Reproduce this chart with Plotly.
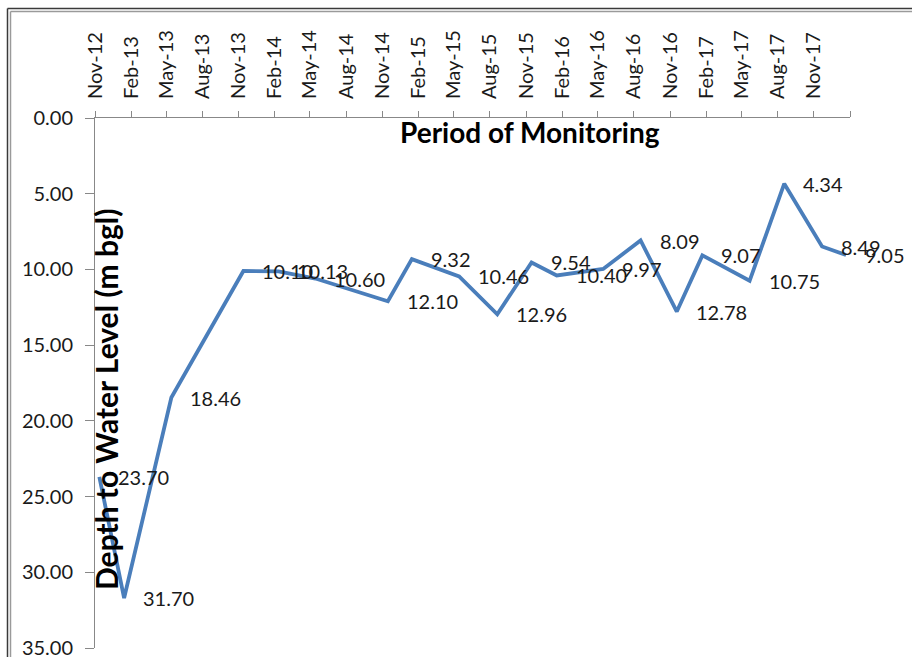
import pandas as pd
import plotly.graph_objects as go

# Monitoring dates and depth to water level in m bgl
dates = ['2012-11-12', '2013-01-14', '2013-05-14', '2013-11-13', '2014-02-10',
         '2014-05-15', '2014-11-15', '2015-01-15', '2015-05-15', '2015-08-20',
         '2015-11-15', '2016-01-18', '2016-05-15', '2016-08-18', '2016-11-18',
         '2017-01-22', '2017-05-22', '2017-08-18', '2017-11-22', '2018-01-22']
depth = [23.70, 31.70, 18.46, 10.10, 10.13,
         10.60, 12.10, 9.32, 10.46, 12.96,
         9.54, 10.40, 9.97, 8.09, 12.78,
         9.07, 10.75, 4.34, 8.49, 9.05]

# Tick labels along the top axis (every 3 months, last tick unlabeled)
tick_labels = ['Nov-12', 'Feb-13', 'May-13', 'Aug-13', 'Nov-13', 'Feb-14', 'May-14',
               'Aug-14', 'Nov-14', 'Feb-15', 'May-15', 'Aug-15', 'Nov-15', 'Feb-16',
               'May-16', 'Aug-16', 'Nov-16', 'Feb-17', 'May-17', 'Aug-17', 'Nov-17', '']
tick_dates = pd.date_range('2012-11-01', periods=len(tick_labels), freq='3MS')

# Figure size and plot area in pixels
W, H = 912, 657
left, right, top, bottom = 95, 850, 118, 648

def px_x(p):
    return (p - left) / (right - left)

def px_y(p):
    return (bottom - p) / (bottom - top)

font_family = 'Lato, Arial, sans-serif'
text_color = '#1a1a1a'
axis_color = '#888888'

fig = go.Figure()

fig.add_trace(go.Scatter(
    x=dates,
    y=depth,
    mode='lines',
    line=dict(color='#4a7ebb', width=3.8),
    hoverinfo='skip'
))

# Data labels to the right of each point
for d, v in zip(dates, depth):
    fig.add_annotation(
        x=d, y=v,
        text=f"{v:.2f}",
        showarrow=False,
        xanchor='left',
        yanchor='middle',
        xshift=17,
        font=dict(family=font_family, size=20, color=text_color)
    )

# Axis titles drawn inside the plot area, like the original
fig.add_annotation(
    xref='paper', yref='paper',
    x=px_x(530), y=px_y(132),
    xanchor='center', yanchor='middle',
    text='<b>Period of Monitoring</b>',
    showarrow=False,
    font=dict(family=font_family, size=28, color='#000000')
)
fig.add_annotation(
    xref='paper', yref='paper',
    x=px_x(106), y=px_y(400),
    xanchor='center', yanchor='middle',
    text='<b>Depth to Water Level (m bgl)</b>',
    textangle=-90,
    showarrow=False,
    font=dict(family=font_family, size=30, color='#000000')
)

# Chart border (double line at top and left)
fig.add_shape(type='line', xref='paper', yref='paper',
              x0=px_x(7.5), y0=px_y(8.5), x1=px_x(W + 5), y1=px_y(8.5),
              line=dict(color='#3a3a3a', width=1.5))
fig.add_shape(type='line', xref='paper', yref='paper',
              x0=px_x(7.5), y0=px_y(8.5), x1=px_x(7.5), y1=px_y(H + 5),
              line=dict(color='#3a3a3a', width=1.5))
fig.add_shape(type='line', xref='paper', yref='paper',
              x0=px_x(10.5), y0=px_y(11.5), x1=px_x(W + 5), y1=px_y(11.5),
              line=dict(color='#9a9a9a', width=1.5))
fig.add_shape(type='line', xref='paper', yref='paper',
              x0=px_x(10.5), y0=px_y(11.5), x1=px_x(10.5), y1=px_y(H + 5),
              line=dict(color='#9a9a9a', width=1.5))

fig.update_layout(
    width=W, height=H,
    margin=dict(l=left, r=W - right, t=top, b=H - bottom, pad=0),
    paper_bgcolor='white',
    plot_bgcolor='white',
    showlegend=False,
    font=dict(family=font_family, color=text_color),
    xaxis=dict(
        type='date',
        side='top',
        range=['2012-11-01', '2018-02-01'],
        tickvals=tick_dates,
        ticktext=tick_labels,
        tickangle=-90,
        ticks='outside',
        ticklen=6,
        tickcolor=axis_color,
        ticklabelstandoff=8,
        showline=True,
        linecolor=axis_color,
        linewidth=1,
        showgrid=False,
        zeroline=False,
        automargin=False,
        tickfont=dict(family=font_family, size=20, color=text_color)
    ),
    yaxis=dict(
        range=[35, 0],
        dtick=5,
        tickformat='.2f',
        ticks='outside',
        ticklen=9,
        tickcolor=axis_color,
        ticklabelstandoff=8,
        ticklabeloverflow='allow',
        showline=True,
        linecolor=axis_color,
        linewidth=1,
        showgrid=False,
        zeroline=False,
        automargin=False,
        tickfont=dict(family=font_family, size=20, color=text_color)
    )
)

# Remove the default page margin so the chart fills the window
fig.write_html("out.html", config={'displayModeBar': False},
               post_script="document.body.style.margin = '0px';")
